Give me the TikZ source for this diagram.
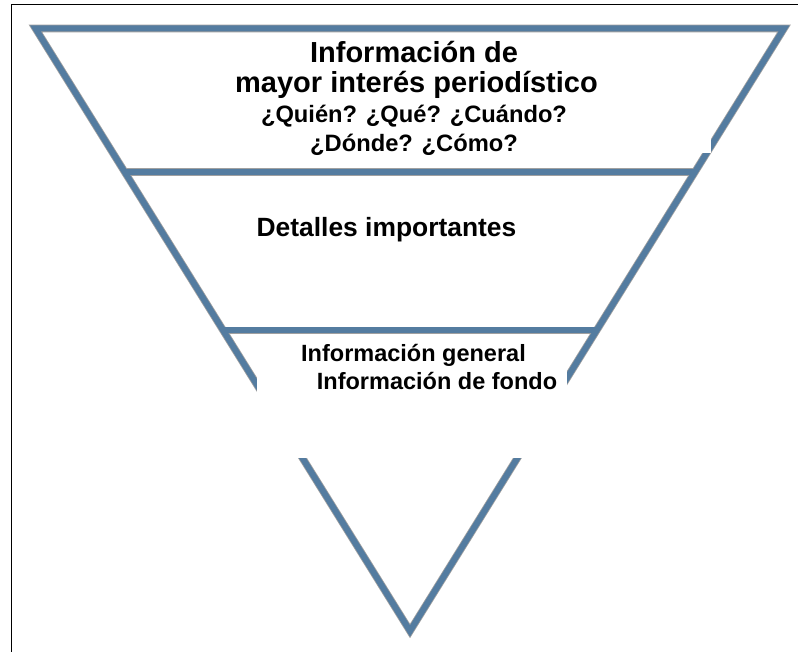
\documentclass[tikz,border=0pt]{standalone}
\usepackage{fontspec}
\setmainfont{Liberation Sans}
\usetikzlibrary{calc}
\definecolor{steel}{RGB}{84,124,160}
\definecolor{halogray}{RGB}{160,160,160}
\tikzset{
  halo/.style={draw=halogray, line width=7.6pt, line join=miter},
  bar/.style={draw=steel, line width=6pt, line join=miter},
  cover/.style={fill=white, draw=none},
  frameline/.style={draw=black, line width=1.3pt},
  txt/.style={anchor=base, inner sep=0pt, font=\bfseries},
}
\begin{document}
\begin{tikzpicture}[x=1pt, y=-1pt]
\useasboundingbox (0,0) rectangle (798,652);
% frame
\draw[frameline] (11.5,652) -- (11.5,4.5) -- (798,4.5);
% triangle corners
\coordinate (A) at (35.5,28.5);
\coordinate (B) at (784,28.5);
\coordinate (C) at (410,631);
\coordinate (L1) at ($(A)!0.2382!(C)$);
\coordinate (R1) at ($(B)!0.2382!(C)$);
\coordinate (L2) at ($(A)!0.5012!(C)$);
\coordinate (R2) at ($(B)!0.5012!(C)$);
\foreach \s in {halo,bar}{
  \draw[\s] (L1) -- (R1);
  \draw[\s] (L2) -- (R2);
  \draw[\s] (A) -- (B) -- (C) -- cycle;
}
% white text boxes covering parts of the lines
\fill[cover] (120,36) rectangle (711,153);
\fill[cover] (257,340) rectangle (567,458);
% texts
\node[txt, font=\bfseries\fontsize{29}{34}\selectfont] (t1) at (414,63) {Información de};
\node[txt, font=\bfseries\fontsize{29}{34}\selectfont] (t2) at (416.5,93) {mayor interés periodístico};
\node[txt, font=\bfseries\fontsize{23.7}{28}\selectfont] (q1) at (414,123) {¿Quién? ¿Qué? ¿Cuándo?};
\node[txt, font=\bfseries\fontsize{23.7}{28}\selectfont] (q2) at (414,152) {¿Dónde? ¿Cómo?};
\node[txt, font=\bfseries\fontsize{26.4}{31}\selectfont] (d1) at (386.5,237) {Detalles importantes};
\node[txt, font=\bfseries\fontsize{23.5}{28}\selectfont] (g1) at (413.5,361) {Información general};
\node[txt, font=\bfseries\fontsize{23.5}{28}\selectfont] (g2) at (437,389) {Información de fondo};
\end{tikzpicture}
\end{document}
